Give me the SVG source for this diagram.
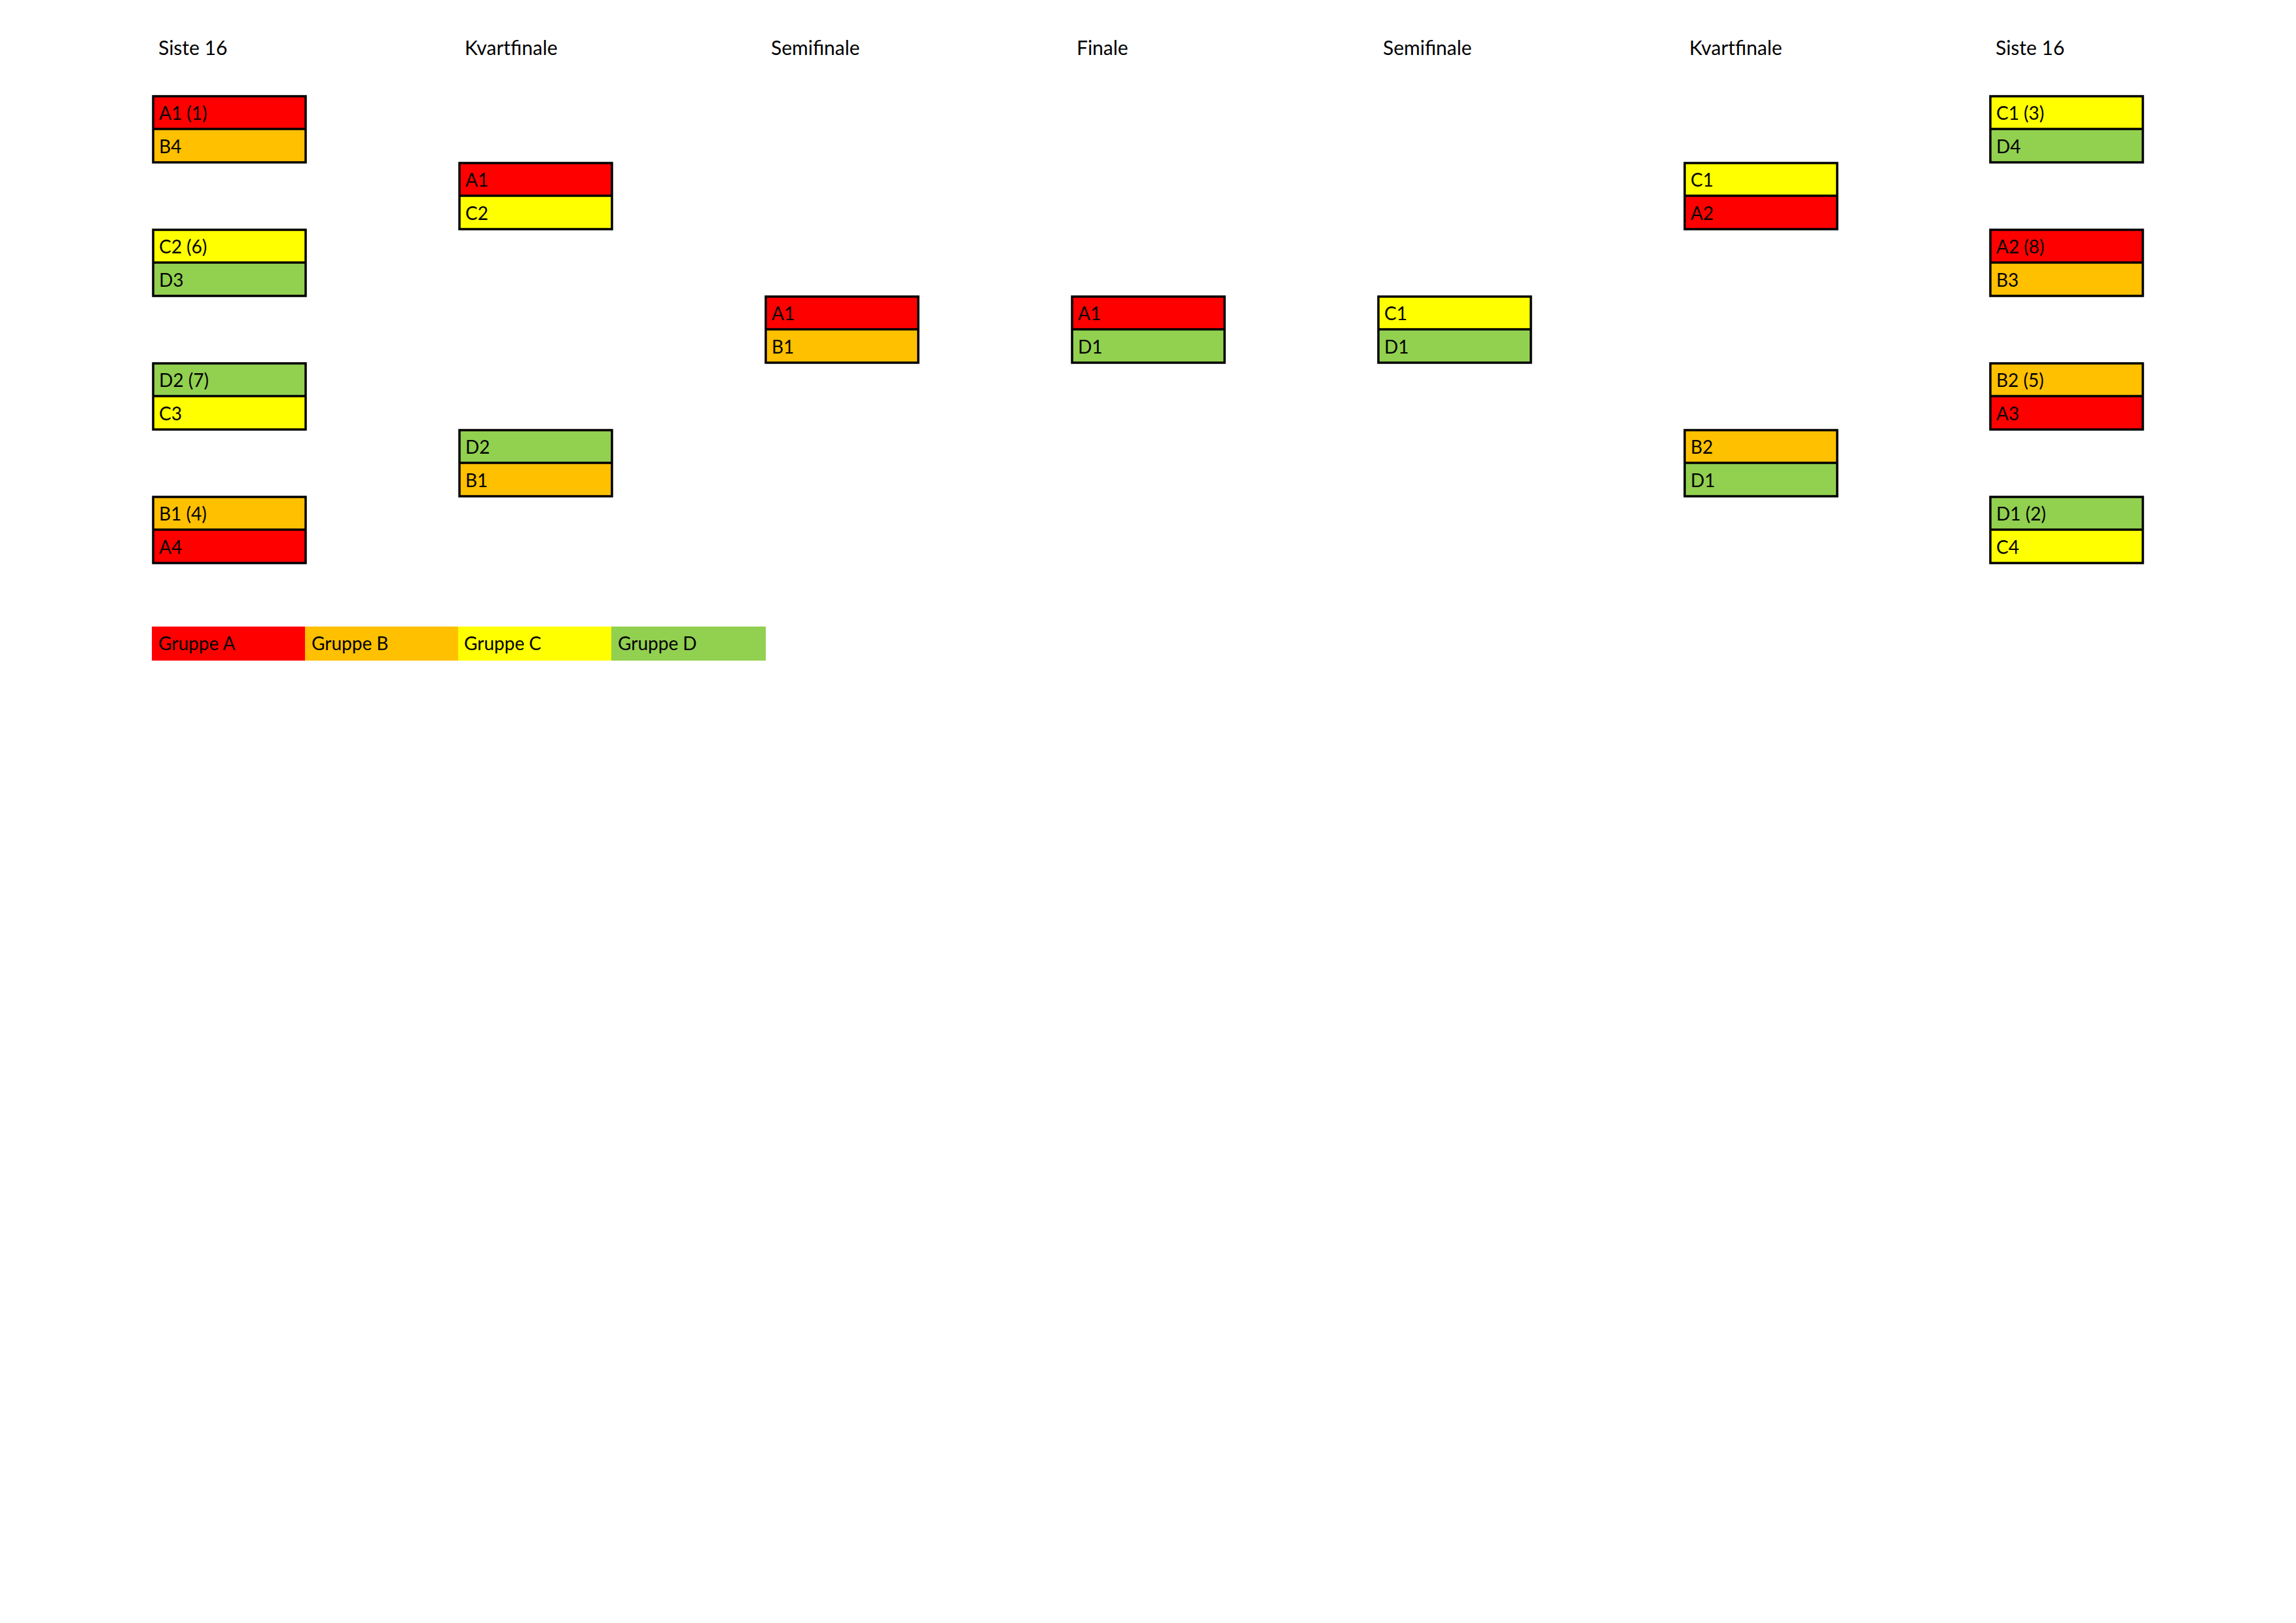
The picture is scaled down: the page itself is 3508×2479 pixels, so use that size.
<svg xmlns="http://www.w3.org/2000/svg" width="3508" height="2479" viewBox="0 0 3508 2479">
<style>
.bg{fill:#ffffff}
.a{fill:#FF0000}
.b{fill:#FFC000}
.c{fill:#FFFF00}
.d{fill:#92D050}
.frame{fill:none;stroke:#000;stroke-width:3.5}
.div{stroke:#000;stroke-width:3.5}
.t{font-family:Lato,"Open Sans","Liberation Sans",sans-serif;font-size:28px;fill:#000}
.h{font-family:Lato,"Open Sans","Liberation Sans",sans-serif;font-size:30px;fill:#000}
</style>
<rect class="bg" x="0" y="0" width="3508" height="2479"/>
<g id="titles">
<text class="h" x="242" y="84">Siste 16</text>
<text class="h" x="710" y="84">Kvartfinale</text>
<text class="h" x="1178" y="84">Semifinale</text>
<text class="h" x="1645" y="84">Finale</text>
<text class="h" x="2113" y="84">Semifinale</text>
<text class="h" x="2581" y="84">Kvartfinale</text>
<text class="h" x="3049" y="84">Siste 16</text>
</g>
<g id="connectors"></g>
<!-- Left Siste 16 -->
<g id="L16-1"><rect class="a" x="234" y="147" width="233" height="50"/><rect class="b" x="234" y="197" width="233" height="51"/><rect class="frame" x="234" y="147" width="233" height="101"/><line class="div" x1="234" y1="197" x2="467" y2="197"/><text class="t" x="243" y="183">A1 (1)</text><text class="t" x="243" y="234">B4</text></g>
<g id="L16-2"><rect class="c" x="234" y="351" width="233" height="50"/><rect class="d" x="234" y="401" width="233" height="51"/><rect class="frame" x="234" y="351" width="233" height="101"/><line class="div" x1="234" y1="401" x2="467" y2="401"/><text class="t" x="243" y="387">C2 (6)</text><text class="t" x="243" y="438">D3</text></g>
<g id="L16-3"><rect class="d" x="234" y="555" width="233" height="50"/><rect class="c" x="234" y="605" width="233" height="51"/><rect class="frame" x="234" y="555" width="233" height="101"/><line class="div" x1="234" y1="605" x2="467" y2="605"/><text class="t" x="243" y="591">D2 (7)</text><text class="t" x="243" y="642">C3</text></g>
<g id="L16-4"><rect class="b" x="234" y="759" width="233" height="50"/><rect class="a" x="234" y="809" width="233" height="51"/><rect class="frame" x="234" y="759" width="233" height="101"/><line class="div" x1="234" y1="809" x2="467" y2="809"/><text class="t" x="243" y="795">B1 (4)</text><text class="t" x="243" y="846">A4</text></g>
<!-- Left Kvartfinale -->
<g id="LQF-1"><rect class="a" x="702" y="249" width="233" height="50"/><rect class="c" x="702" y="299" width="233" height="51"/><rect class="frame" x="702" y="249" width="233" height="101"/><line class="div" x1="702" y1="299" x2="935" y2="299"/><text class="t" x="711" y="285">A1</text><text class="t" x="711" y="336">C2</text></g>
<g id="LQF-2"><rect class="d" x="702" y="657" width="233" height="50"/><rect class="b" x="702" y="707" width="233" height="51"/><rect class="frame" x="702" y="657" width="233" height="101"/><line class="div" x1="702" y1="707" x2="935" y2="707"/><text class="t" x="711" y="693">D2</text><text class="t" x="711" y="744">B1</text></g>
<!-- Left Semifinale -->
<g id="LSF"><rect class="a" x="1170" y="453" width="233" height="50"/><rect class="b" x="1170" y="503" width="233" height="51"/><rect class="frame" x="1170" y="453" width="233" height="101"/><line class="div" x1="1170" y1="503" x2="1403" y2="503"/><text class="t" x="1179" y="489">A1</text><text class="t" x="1179" y="540">B1</text></g>
<!-- Finale -->
<g id="Final"><rect class="a" x="1638" y="453" width="233" height="50"/><rect class="d" x="1638" y="503" width="233" height="51"/><rect class="frame" x="1638" y="453" width="233" height="101"/><line class="div" x1="1638" y1="503" x2="1871" y2="503"/><text class="t" x="1647" y="489">A1</text><text class="t" x="1647" y="540">D1</text></g>
<!-- Right Semifinale -->
<g id="RSF"><rect class="c" x="2106" y="453" width="233" height="50"/><rect class="d" x="2106" y="503" width="233" height="51"/><rect class="frame" x="2106" y="453" width="233" height="101"/><line class="div" x1="2106" y1="503" x2="2339" y2="503"/><text class="t" x="2115" y="489">C1</text><text class="t" x="2115" y="540">D1</text></g>
<!-- Right Kvartfinale -->
<g id="RQF-1"><rect class="c" x="2574" y="249" width="233" height="50"/><rect class="a" x="2574" y="299" width="233" height="51"/><rect class="frame" x="2574" y="249" width="233" height="101"/><line class="div" x1="2574" y1="299" x2="2807" y2="299"/><text class="t" x="2583" y="285">C1</text><text class="t" x="2583" y="336">A2</text></g>
<g id="RQF-2"><rect class="b" x="2574" y="657" width="233" height="50"/><rect class="d" x="2574" y="707" width="233" height="51"/><rect class="frame" x="2574" y="657" width="233" height="101"/><line class="div" x1="2574" y1="707" x2="2807" y2="707"/><text class="t" x="2583" y="693">B2</text><text class="t" x="2583" y="744">D1</text></g>
<!-- Right Siste 16 -->
<g id="R16-1"><rect class="c" x="3041" y="147" width="233" height="50"/><rect class="d" x="3041" y="197" width="233" height="51"/><rect class="frame" x="3041" y="147" width="233" height="101"/><line class="div" x1="3041" y1="197" x2="3274" y2="197"/><text class="t" x="3050" y="183">C1 (3)</text><text class="t" x="3050" y="234">D4</text></g>
<g id="R16-2"><rect class="a" x="3041" y="351" width="233" height="50"/><rect class="b" x="3041" y="401" width="233" height="51"/><rect class="frame" x="3041" y="351" width="233" height="101"/><line class="div" x1="3041" y1="401" x2="3274" y2="401"/><text class="t" x="3050" y="387">A2 (8)</text><text class="t" x="3050" y="438">B3</text></g>
<g id="R16-3"><rect class="b" x="3041" y="555" width="233" height="50"/><rect class="a" x="3041" y="605" width="233" height="51"/><rect class="frame" x="3041" y="555" width="233" height="101"/><line class="div" x1="3041" y1="605" x2="3274" y2="605"/><text class="t" x="3050" y="591">B2 (5)</text><text class="t" x="3050" y="642">A3</text></g>
<g id="R16-4"><rect class="d" x="3041" y="759" width="233" height="50"/><rect class="c" x="3041" y="809" width="233" height="51"/><rect class="frame" x="3041" y="759" width="233" height="101"/><line class="div" x1="3041" y1="809" x2="3274" y2="809"/><text class="t" x="3050" y="795">D1 (2)</text><text class="t" x="3050" y="846">C4</text></g>
<!-- Legend -->
<g id="legend">
<rect class="a" x="232" y="957" width="234" height="52"/>
<rect class="b" x="466" y="957" width="234" height="52"/>
<rect class="c" x="700" y="957" width="234" height="52"/>
<rect class="d" x="934" y="957" width="236" height="52"/>
<text class="t" x="242" y="993">Gruppe A</text>
<text class="t" x="476" y="993">Gruppe B</text>
<text class="t" x="709" y="993">Gruppe C</text>
<text class="t" x="944" y="993">Gruppe D</text>
</g>
</svg>
